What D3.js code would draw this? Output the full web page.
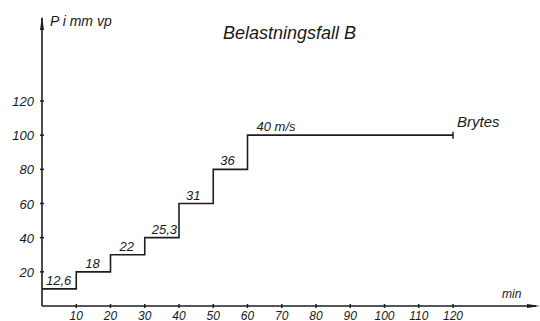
<!DOCTYPE html>
<html>
<head>
<meta charset="utf-8">
<script src="https://cdn.jsdelivr.net/npm/d3@7"></script>
<style>
  html, body { margin: 0; padding: 0; background: #fff; }
  svg { display: block; }
  text { font-family: "Liberation Sans", "DejaVu Sans", sans-serif; font-style: italic; fill: #1a1a1a; }
</style>
</head>
<body>
<script>
// ---- data ----
const times = [0, 10, 20, 30, 40, 50, 60, 120];          // min (step boundaries)
const pressures = [10, 20, 30, 40, 60, 80, 100];          // P i mm vp for each step
const speedLabels = ["12,6", "18", "22", "25,3", "31", "36", "40 m/s"];
const xTicks = [10, 20, 30, 40, 50, 60, 70, 80, 90, 100, 110, 120];
const yTicks = [20, 40, 60, 80, 100, 120];
const title = "Belastningsfall B";
const yTitle = "P i mm vp";
const xTitle = "min";
const endLabel = "Brytes";

const W = 540, H = 321;
const svg = d3.select("body").append("svg").attr("width", W).attr("height", H);

const x = d3.scaleLinear().domain([0, 120]).range([42, 453]);
const y = d3.scaleLinear().domain([0, 120]).range([306, 101]);

const ink = "#1e1e1e";

// axes lines
svg.append("line").attr("x1", x(0)).attr("x2", 536).attr("y1", y(0)).attr("y2", y(0))
  .attr("stroke", ink).attr("stroke-width", 1.6);
svg.append("line").attr("x1", x(0)).attr("x2", x(0)).attr("y1", y(0)).attr("y2", 18)
  .attr("stroke", ink).attr("stroke-width", 1.6);
// arrows
svg.append("path").attr("d", `M${x(0)},16 L${x(0)-2},30 L${x(0)+2},30 Z`).attr("fill", ink);
svg.append("path").attr("d", `M540,${y(0)} L527,${y(0)-2} L527,${y(0)+2} Z`).attr("fill", ink);

// x ticks
const xg = svg.append("g");
xg.selectAll("line").data(xTicks).join("line")
  .attr("x1", d => x(d)).attr("x2", d => x(d))
  .attr("y1", y(0) - 2).attr("y2", y(0) + 2)
  .attr("stroke", ink).attr("stroke-width", 1.5);
xg.selectAll("text").data(xTicks).join("text")
  .attr("x", d => x(d)).attr("y", 319.5)
  .attr("text-anchor", "middle").attr("font-size", 12)
  .text(d => d);

// y ticks
const yg = svg.append("g");
yg.selectAll("line").data(yTicks).join("line")
  .attr("x1", x(0) - 2).attr("x2", x(0) + 2)
  .attr("y1", d => y(d)).attr("y2", d => y(d))
  .attr("stroke", ink).attr("stroke-width", 1.5);
yg.selectAll("text").data(yTicks).join("text")
  .attr("x", 34).attr("y", d => y(d) + 5)
  .attr("text-anchor", "end").attr("font-size", 13)
  .text(d => d);

// step line
const pts = pressures.map((p, i) => [times[i], p]);
pts.push([times[times.length - 1], pressures[pressures.length - 1]]);
const line = d3.line().x(d => x(d[0])).y(d => y(d[1])).curve(d3.curveStepAfter);
svg.append("path").attr("d", line(pts)).attr("fill", "none")
  .attr("stroke", ink).attr("stroke-width", 1.6);
// end tick
const tEnd = times[times.length - 1], pEnd = pressures[pressures.length - 1];
svg.append("line").attr("x1", x(tEnd)).attr("x2", x(tEnd))
  .attr("y1", y(pEnd) - 3.5).attr("y2", y(pEnd) + 3.5)
  .attr("stroke", ink).attr("stroke-width", 1.5);

// step labels
const labelDx = [4, 9, 9, 7, 7, 7, 9];
svg.append("g").selectAll("text").data(speedLabels).join("text")
  .attr("x", (d, i) => x(times[i]) + labelDx[i])
  .attr("y", (d, i) => y(pressures[i]) - 4)
  .attr("font-size", 13)
  .text(d => d);

svg.append("text").attr("x", x(tEnd) + 4).attr("y", y(pEnd) - 8)
  .attr("font-size", 15).text(endLabel);

// titles
svg.append("text").attr("x", 223).attr("y", 39).attr("font-size", 18).text(title);
svg.append("text").attr("x", 50).attr("y", 26).attr("font-size", 14).text(yTitle);
svg.append("text").attr("x", 502).attr("y", 298).attr("font-size", 12).text(xTitle);
</script>
</body>
</html>
